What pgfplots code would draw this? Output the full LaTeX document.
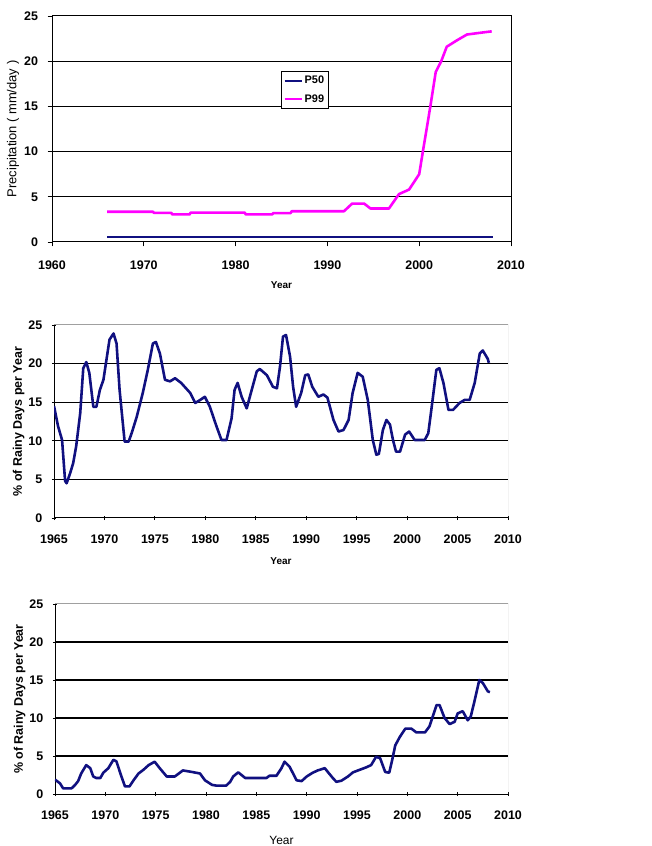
\documentclass[border=0pt]{standalone}
\usepackage{pgfplots}
\pgfplotsset{compat=1.18}
\usepackage{fontspec}
\setmainfont{Liberation Sans}
\definecolor{navy}{RGB}{16,16,128}
\definecolor{mag}{RGB}{255,0,255}
\definecolor{framegray}{RGB}{160,160,160}
\pgfplotsset{
  common/.style={
    scale only axis,
    anchor=south west,
    ymin=0, ymax=25, ytick={0,5,...,25},
    extra y ticks={5,10,15,20},
    extra y tick labels={},
    extra y tick style={ymajorgrids=true, major tick length=0pt},
    grid style={black, line width=1.3pt},
    tick align=outside,
    major tick length=4.5bp,
    tick style={black, line width=0.9pt},
    /pgf/number format/assume math mode=true,
    /pgf/number format/1000 sep={},
    ticklabel style={font=\fontsize{12.5}{14}\selectfont\bfseries},
    xticklabel style={yshift=-11bp},
    yticklabel style={xshift=-6bp},
    xlabel={Year},
    xlabel style={font=\fontsize{10}{12}\selectfont\bfseries, at={(axis description cs:0.5,0)}, anchor=center, yshift=-43bp},
    every axis plot/.append style={line width=2.6pt, line join=round},
  },
  lower/.style={
    common,
    axis lines=left,
    axis line style={-, black, line width=1pt},
    xmin=1965, xmax=2010, xtick={1965,1970,...,2010},
    ylabel={\% of Rainy Days per Year},
    ylabel style={font=\fontsize{12.5}{14}\selectfont\bfseries, at={(axis description cs:-0.078,0.5)}, anchor=center},
  }
}
\begin{document}
\begin{tikzpicture}
\useasboundingbox (0bp,0bp) rectangle (652bp,846bp);
% ---------------- top chart
\begin{axis}[common,
  at={(52bp,604bp)}, width=459bp, height=226bp,
  axis line style={black, line width=1pt},
  tick pos=left,
  xmin=1960, xmax=2010, xtick={1960,1970,...,2010},
  ylabel={Precipitation ( mm/day )},
  ylabel style={font=\fontsize{13}{15}\selectfont, at={(axis description cs:-0.085,0.5)}, anchor=center},
  legend style={at={(0.551,0.673)}, anchor=center, draw=black, line width=0.8pt,
    font=\fontsize{11}{13}\selectfont\bfseries, inner xsep=2pt, inner ysep=3pt, row sep=5bp,
    cells={anchor=west}},
  legend image post style={line width=2pt},
]
\addplot[navy, line width=2.8pt] coordinates {(1966.0,0.55) (2008.0,0.55)};
\addlegendentry{P50}
\addplot[mag] coordinates {
(1966.0,3.35) (1971.0,3.35) (1971.1,3.22) (1973.0,3.22) (1973.1,3.05) (1975.0,3.05)
(1975.1,3.25) (1981.0,3.25) (1981.1,3.05) (1984.0,3.05) (1984.1,3.2) (1986.0,3.2)
(1986.1,3.4) (1991.8,3.4) (1992.7,4.25) (1994.0,4.25) (1994.7,3.7) (1996.7,3.7)
(1997.8,5.3) (1998.9,5.8) (2000.0,7.5) (2000.4,10.0) (2001.2,14.9) (2001.8,18.8)
(2002.4,20.0) (2003.0,21.6) (2004.1,22.3) (2005.2,22.95) (2006.7,23.15) (2007.9,23.3)};
\addlegendentry{P99}
\end{axis}
% ---------------- middle chart
\begin{axis}[lower,
  at={(54bp,328bp)}, width=454bp, height=193bp,
]
\draw[framegray, line width=1pt] (rel axis cs:0,1) -- (rel axis cs:1,1) -- (rel axis cs:1,0);
\addplot[navy] coordinates {
(1965.0,14.5) (1965.4,11.9) (1965.8,10.1) (1966.1,4.8) (1966.25,4.5) (1966.6,5.8)
(1966.9,7.1) (1967.2,9.3) (1967.6,13.6) (1967.9,19.4) (1968.2,20.2) (1968.5,18.8)
(1968.9,14.4) (1969.2,14.4) (1969.55,16.6) (1969.9,17.9) (1970.2,20.5) (1970.5,23.1)
(1970.9,23.9) (1971.2,22.6) (1971.5,16.6) (1972.0,9.9) (1972.4,9.9) (1972.7,11.0)
(1973.2,13.1) (1973.8,16.2) (1974.3,19.2) (1974.8,22.6) (1975.1,22.8) (1975.5,21.3)
(1976.0,17.9) (1976.5,17.7) (1977.0,18.1) (1977.6,17.5) (1978.5,16.2) (1979.0,14.9)
(1979.5,15.3) (1979.95,15.7) (1980.45,14.4) (1981.1,11.9) (1981.6,10.1) (1982.1,10.1)
(1982.6,12.9) (1982.9,16.6) (1983.2,17.5) (1983.6,15.7) (1984.1,14.2) (1984.6,16.6)
(1985.1,19.0) (1985.4,19.3) (1986.1,18.5) (1986.7,17.0) (1987.1,16.8) (1987.4,19.6)
(1987.7,23.5) (1988.0,23.7) (1988.4,20.9) (1988.7,17.0) (1989.0,14.4) (1989.5,16.2)
(1989.9,18.5) (1990.2,18.6) (1990.6,17.0) (1991.2,15.7) (1991.7,16.0) (1992.1,15.6)
(1992.7,12.7) (1993.2,11.2) (1993.7,11.4) (1994.2,12.7) (1994.6,16.2) (1995.1,18.8)
(1995.6,18.3) (1996.1,15.3) (1996.6,10.1) (1996.95,8.2) (1997.2,8.3) (1997.6,11.4)
(1997.95,12.7) (1998.3,12.1) (1998.6,10.1) (1998.9,8.6) (1999.3,8.6) (1999.8,10.8)
(2000.2,11.2) (2000.75,10.1) (2001.75,10.1) (2002.1,11.0) (2002.4,14.0) (2002.9,19.2)
(2003.2,19.4) (2003.6,17.5) (2004.1,14.0) (2004.55,14.0) (2005.2,14.9) (2005.7,15.3)
(2006.2,15.3) (2006.7,17.5) (2007.2,21.3) (2007.5,21.7) (2008.0,20.6) (2008.1,20.1)};
\end{axis}
% ---------------- bottom chart
\begin{axis}[lower,
  at={(55bp,52bp)}, width=453bp, height=190bp,
  xlabel style={font=\fontsize{12}{14}\selectfont, yshift=-3bp},
]
\draw[framegray, line width=1pt] (rel axis cs:0,1) -- (rel axis cs:1,1) -- (rel axis cs:1,0);
\addplot[navy] coordinates {
(1965.0,1.9) (1965.5,1.4) (1965.8,0.75) (1966.2,0.75) (1966.65,0.75) (1967.0,1.2)
(1967.3,1.7) (1967.6,2.7) (1968.1,3.8) (1968.5,3.4) (1968.8,2.3) (1969.1,2.1)
(1969.5,2.1) (1969.8,2.8) (1970.3,3.4) (1970.8,4.5) (1971.1,4.3) (1971.6,2.3)
(1971.95,1.0) (1972.4,1.0) (1972.8,1.8) (1973.3,2.7) (1973.8,3.2) (1974.3,3.8)
(1974.9,4.25) (1975.4,3.4) (1976.1,2.3) (1976.9,2.3) (1977.7,3.1) (1978.6,2.9)
(1979.4,2.7) (1979.9,1.8) (1980.6,1.2) (1981.05,1.1) (1982.0,1.1) (1982.4,1.6)
(1982.7,2.3) (1983.2,2.85) (1983.9,2.1) (1986.0,2.1) (1986.3,2.4) (1987.0,2.4)
(1987.5,3.4) (1987.8,4.25) (1988.3,3.6) (1989.0,1.8) (1989.5,1.7) (1990.0,2.3)
(1990.6,2.8) (1991.1,3.1) (1991.8,3.4) (1992.1,2.9) (1992.6,2.1) (1992.95,1.6)
(1993.45,1.75) (1994.1,2.3) (1994.6,2.85) (1995.3,3.2) (1995.9,3.5) (1996.4,3.8)
(1996.9,4.9) (1997.3,4.7) (1997.8,2.9) (1998.2,2.8) (1998.5,4.5) (1998.8,6.4)
(1999.25,7.5) (1999.8,8.6) (2000.4,8.6) (2000.9,8.1) (2001.75,8.1) (2002.2,8.9)
(2002.9,11.7) (2003.2,11.7) (2003.7,10.0) (2004.2,9.2) (2004.7,9.5) (2005.0,10.6)
(2005.5,10.9) (2006.0,9.7) (2006.3,10.2) (2006.65,12.1) (2007.15,15.0) (2007.5,14.6)
(2008.0,13.5) (2008.2,13.4)};
\end{axis}
\end{tikzpicture}
\end{document}
